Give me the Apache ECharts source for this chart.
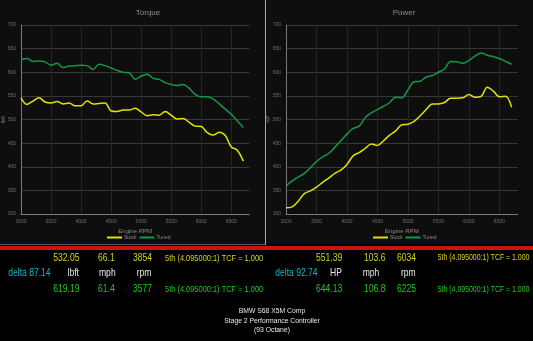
<!DOCTYPE html>
<html>
<head>
<meta charset="utf-8">
<style>
  html, body { margin: 0; padding: 0; background: #000; }
  #chart { width: 533px; height: 341px; }
</style>
<script src="https://cdn.jsdelivr.net/npm/echarts@6/dist/echarts.min.js"></script>
</head>
<body>
<div id="chart"></div>
<script>
// Engine speed of each dyno sample (rpm)
const rpm = [3000, 3100, 3200, 3300, 3400, 3500, 3600, 3700, 3800, 3900,
             4000, 4100, 4200, 4300, 4400, 4500, 4600, 4700, 4800, 4900,
             5000, 5100, 5200, 5300, 5400, 5500, 5600, 5700, 5800, 5900,
             6000, 6100, 6200, 6300, 6400, 6500, 6600, 6700];

// Torque (lbft)
const torqueStock = [546, 532, 539, 546, 537, 535, 538, 533, 535, 529,
                     529, 539, 533, 534, 535, 518, 517, 520, 520, 524,
                     516, 508, 510, 509, 517, 509, 501, 502, 494, 486,
                     485, 472, 467, 473, 466, 442, 435, 412];
const torqueTuned = [627, 629, 623, 624, 622, 615, 619, 610, 613, 614,
                     615, 614, 606, 617, 614, 609, 604, 600, 599, 585,
                     592, 596, 587, 585, 578, 574, 572, 574, 566, 553,
                     548, 548, 543, 533, 522, 511, 497, 483];

// Power (HP)
const powerStock = [313, 315, 327, 343, 349, 357, 367, 376, 386, 393,
                    405, 423, 430, 439, 448, 445, 455, 467, 476, 489,
                    490, 496, 508, 521, 533, 533, 536, 545, 545, 546,
                    553, 547, 549, 568, 560, 548, 549, 526];
const powerTuned = [359, 370, 378, 386, 398, 411, 421, 428, 441, 455,
                    469, 481, 486, 504, 514, 521, 528, 536, 547, 546,
                    563, 580, 581, 590, 593, 600, 607, 623, 622, 619,
                    625, 634, 641, 636, 633, 629, 623, 617];

// Readout rows beneath the plots
const torqueReadout = {
  stock: ['532.05', '66.1', '3854', '5th (4.095000:1) TCF = 1.000'],
  units: ['delta 87.14', 'lbft', 'mph', 'rpm'],
  tuned: ['619.19', '61.4', '3577', '5th (4.095000:1) TCF = 1.000']
};
const powerReadout = {
  stock: ['551.39', '103.6', '6034', '5th (4.095000:1) TCF = 1.000'],
  units: ['delta 92.74', 'HP', 'mph', 'rpm'],
  tuned: ['644.13', '106.8', '6225', '5th (4.095000:1) TCF = 1.000']
};
const footerLines = ['BMW S68 X5M Comp', 'Stage 2 Performance Controller', '(93 Octane)'];

const STOCK = '#e2e200';
const TUNED = '#13984a';
const pairs = (ys) => rpm.map((r, i) => [r, ys[i]]);

const chart = echarts.init(document.getElementById('chart'), null, { renderer: 'canvas' });

function xAxisFor(gridIndex) {
  return {
    type: 'value', gridIndex, min: 3000, max: 6800, interval: 500, z: 3,
    name: 'Engine RPM', nameLocation: 'middle', nameGap: 14, nameMoveOverlap: false,
    nameTextStyle: { color: '#8a8a8a', fontSize: 6, fontFamily: 'Liberation Sans' },
    axisLine: { show: true, lineStyle: { color: '#7a7a7a', width: 1 } },
    axisTick: { show: false },
    axisLabel: { color: '#6e6e6e', fontSize: 5, margin: 5, showMaxLabel: false,
                 fontFamily: 'Liberation Sans', formatter: (v) => String(v) },
    splitLine: { show: true, showMaxLine: false, lineStyle: { color: '#242424', width: 1 } }
  };
}
function yAxisFor(gridIndex, name) {
  return {
    type: 'value', gridIndex, min: 300, max: 700, interval: 50, z: 3,
    name, nameLocation: 'middle', nameRotate: 90, nameGap: 15, nameMoveOverlap: false,
    nameTextStyle: { color: '#8a8a8a', fontSize: 5, fontFamily: 'Liberation Sans' },
    axisLine: { show: true, lineStyle: { color: '#7a7a7a', width: 1 } },
    axisTick: { show: false },
    axisLabel: { color: '#6e6e6e', fontSize: 5, margin: 5, fontFamily: 'Liberation Sans' },
    splitLine: { show: true, lineStyle: { color: '#383838', width: 1 } }
  };
}
function lineSeries(name, data, color, idx) {
  return {
    name, type: 'line', xAxisIndex: idx, yAxisIndex: idx, data,
    smooth: 0.35, symbol: 'none', z: 4,
    lineStyle: { color, width: 1.5 }, itemStyle: { color }
  };
}
function legendFor(left) {
  return {
    left, top: 235, itemWidth: 15, itemHeight: 2, itemGap: 3, icon: 'rect',
    padding: 0, data: ['Stock', 'Tuned'],
    textStyle: { color: '#8a8a8a', fontSize: 5, padding: [0, 0, 0, -3], fontFamily: 'Liberation Sans' }
  };
}

// Text helper: narrow readout lettering via horizontal scale
function txt(x, y, text, fill, size, opts = {}) {
  return {
    type: 'text', x, y, scaleX: opts.scaleX ?? 0.8, z: 10,
    style: {
      text, fill, font: `${size}px "Liberation Sans", Arial, sans-serif`,
      textAlign: opts.align || 'left', textVerticalAlign: 'middle'
    }
  };
}

const YEL = '#d2d21e', GRN = '#1ec81e', CYAN = '#18b4c8', WHT = '#e8e8e8';
const rowY = [258, 273, 289.5];

function readout(r, cols, unitCols, tcfSize) {
  const out = [];
  out.push(txt(cols[0], rowY[0], r.stock[0], YEL, 10.7));
  out.push(txt(cols[1], rowY[0], r.stock[1], YEL, 10.7));
  out.push(txt(cols[2], rowY[0], r.stock[2], YEL, 10.7));
  out.push(txt(cols[3], rowY[0], r.stock[3], YEL, tcfSize));
  out.push(txt(unitCols[0], rowY[1], r.units[0], CYAN, 10.7));
  out.push(txt(unitCols[1], rowY[1], r.units[1], WHT, 10.7));
  out.push(txt(unitCols[2], rowY[1], r.units[2], WHT, 10.7));
  out.push(txt(unitCols[3], rowY[1], r.units[3], WHT, 10.7));
  out.push(txt(cols[0], rowY[2], r.tuned[0], GRN, 10.7));
  out.push(txt(cols[1], rowY[2], r.tuned[1], GRN, 10.7));
  out.push(txt(cols[2], rowY[2], r.tuned[2], GRN, 10.7));
  out.push(txt(cols[3], rowY[2], r.tuned[3], GRN, tcfSize));
  return out;
}

const graphics = [
  // panel backgrounds and frame
  { type: 'rect', shape: { x: 0, y: 0, width: 265, height: 244 }, style: { fill: '#0e0e0e' }, z: -10 },
  { type: 'rect', shape: { x: 266, y: 0, width: 267, height: 244 }, style: { fill: '#0e0e0e' }, z: -10 },
  { type: 'rect', shape: { x: 265, y: 0, width: 1, height: 245 }, style: { fill: '#a8a8a8' }, z: -9 },
  { type: 'rect', shape: { x: 0, y: 244, width: 265, height: 1 }, style: { fill: '#5a5a5a' }, z: -9 },
  { type: 'rect', shape: { x: 0, y: 246, width: 533, height: 4 }, style: { fill: '#c8160c' }, z: -9 },
  ...readout(torqueReadout, [53.3, 98, 133, 165], [8.3, 67.5, 99, 136.7], 9.3),
  ...readout(powerReadout, [316, 364, 397, 437.7], [275.3, 330, 362.7, 401], 8.7),
  ...footerLines.map((t, i) =>
    txt(272, 311.5 + i * 9.5, t, WHT, 6.8, { align: 'center', scaleX: 1 }))
];

chart.setOption({
  backgroundColor: '#000',
  animation: false,
  title: [
    { text: 'Torque', left: 143, top: 4, textAlign: 'center',
      textStyle: { color: '#8a8a8a', fontSize: 8, fontWeight: 'normal', fontFamily: 'Liberation Sans' } },
    { text: 'Power', left: 399, top: 4, textAlign: 'center',
      textStyle: { color: '#8a8a8a', fontSize: 8, fontWeight: 'normal', fontFamily: 'Liberation Sans' } }
  ],
  grid: [
    { left: 20, top: 25, width: 229.3, height: 189 },
    { left: 286, top: 25, width: 231.7, height: 189 }
  ],
  legend: [legendFor(107), legendFor(373)],
  xAxis: [xAxisFor(0), xAxisFor(1)],
  yAxis: [yAxisFor(0, 'lbft'), yAxisFor(1, 'HP')],
  series: [
    lineSeries('Stock', pairs(torqueStock), STOCK, 0),
    lineSeries('Tuned', pairs(torqueTuned), TUNED, 0),
    lineSeries('Stock', pairs(powerStock), STOCK, 1),
    lineSeries('Tuned', pairs(powerTuned), TUNED, 1)
  ],
  graphic: { elements: graphics }
});
</script>
</body>
</html>
